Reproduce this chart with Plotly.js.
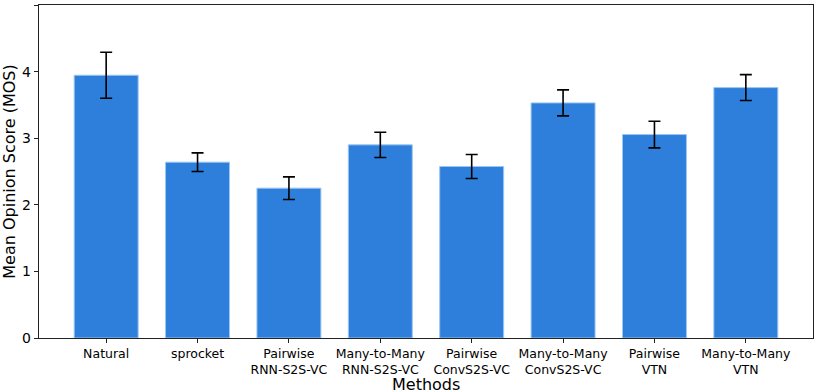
<!DOCTYPE html>
<html>
<head>
<meta charset="utf-8">
<script src="https://cdn.plot.ly/plotly-3.0.1.min.js"></script>
<style>
    html, body { margin: 0; padding: 0; background: #ffffff; }
    #chart { width: 814px; height: 391px; }
</style>
</head>
<body>
<div id="chart"></div>
<script>
// Метод -> средняя оценка MOS и доверительный интервал
const methods = [
    'Natural',
    'sprocket',
    'Pairwise<br>RNN-S2S-VC',
    'Many-to-Many<br>RNN-S2S-VC',
    'Pairwise<br>ConvS2S-VC',
    'Many-to-Many<br>ConvS2S-VC',
    'Pairwise<br>VTN',
    'Many-to-Many<br>VTN'
];
const mosMean = [3.945, 2.64, 2.25, 2.90, 2.575, 3.53, 3.055, 3.76];
const mosErr = [0.345, 0.14, 0.17, 0.19, 0.18, 0.195, 0.2, 0.195];
const yTicks = [0, 1, 2, 3, 4, 5];

const FONT = 'DejaVu Sans, Liberation Sans, sans-serif';

const trace = {
    x: methods.map((m, i) => i),
    y: mosMean,
    type: 'bar',
    width: 0.7,
    marker: {
        color: '#2d7fdb',
        line: { color: '#9cc6f2', width: 1 }
    },
    error_y: {
        type: 'data',
        array: mosErr,
        visible: true,
        color: '#000000',
        thickness: 1.6,
        width: 6
    },
    hoverinfo: 'none'
};

const layout = {
    width: 814,
    height: 391,
    margin: { l: 39, r: 1, t: 5, b: 53 },
    paper_bgcolor: '#ffffff',
    plot_bgcolor: '#ffffff',
    showlegend: false,
    font: { family: FONT, color: '#000000' },
    xaxis: {
        range: [-0.735, 7.735],
        tickmode: 'array',
        tickvals: methods.map((m, i) => i),
        ticktext: methods,
        tickfont: { size: 12.5, family: FONT },
        ticks: 'outside',
        ticklen: 4,
        tickcolor: '#222222',
        showline: true,
        linecolor: '#222222',
        linewidth: 1.2,
        mirror: true,
        showgrid: false,
        zeroline: false,
        automargin: false
    },
    yaxis: {
        range: [0, 5],
        tickmode: 'array',
        tickvals: yTicks,
        ticktext: yTicks.map(String),
        tickfont: { size: 14, family: FONT },
        ticks: 'outside',
        ticklen: 4,
        tickcolor: '#222222',
        showline: true,
        linecolor: '#222222',
        linewidth: 1.2,
        mirror: true,
        showgrid: false,
        zeroline: false,
        automargin: false,
        title: { text: 'Mean Opinion Score (MOS)', font: { size: 16, family: FONT }, standoff: 6 }
    },
    // подпись оси X отдельно, чтобы не наезжала на двухстрочные метки
    annotations: [{
        text: 'Methods',
        xref: 'paper',
        yref: 'paper',
        x: 0.5,
        y: -0.139,
        xanchor: 'center',
        yanchor: 'middle',
        showarrow: false,
        font: { size: 16, family: FONT }
    }]
};

Plotly.newPlot('chart', [trace], layout, { displayModeBar: false, staticPlot: true });
</script>
</body>
</html>
